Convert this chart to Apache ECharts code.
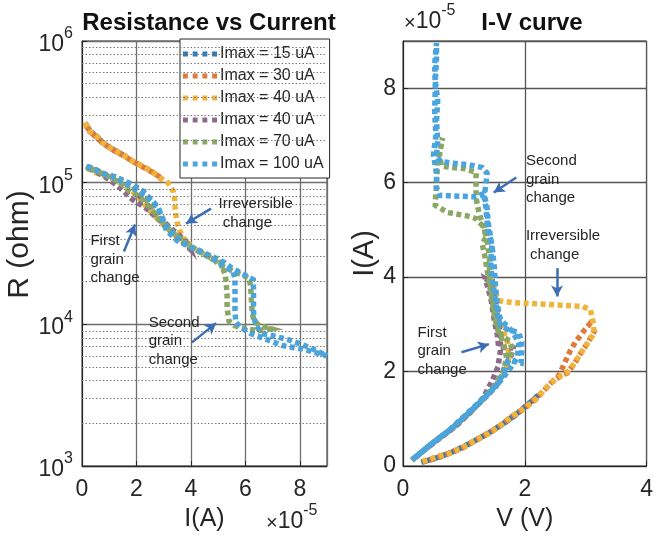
<!DOCTYPE html>
<html>
<head>
<meta charset="utf-8">
<title>Resistance vs Current / I-V curve</title>
<script src="https://cdn.jsdelivr.net/npm/echarts@6/dist/echarts.min.js"></script>
<style>
  html, body { margin: 0; padding: 0; background: #ffffff; }
  #chart { width: 656px; height: 541px; }
</style>
</head>
<body>
<div id="chart"></div>
<script>
// ---- Sweep names (one per current compliance) ----
const sweepNames = ['Imax = 15 uA', 'Imax = 30 uA', 'Imax = 40 uA', 'Imax = 40 uA ', 'Imax = 70 uA', 'Imax = 100 uA'];
const sweepColors = ['#2a79b8', '#de7a3c', '#f0b43c', '#8c6a8c', '#8aa763', '#4aa4dd'];

// ---- Resistance vs current: [I (x1e-5 A), R (ohm)] ----
const rc15 = [[0.11,2.65e5],[0.29,2.29e5],[0.55,2.11e5],[0.77,1.91e5],[1.14,1.71e5],[1.51,1.57e5],[1.30,1.64e5],[0.90,1.83e5],[0.50,2.12e5],[0.20,2.45e5],[0.11,2.62e5]];
const rc30 = [[0.11,2.65e5],[0.29,2.29e5],[0.55,2.11e5],[0.77,1.91e5],[1.14,1.71e5],[1.51,1.57e5],[1.88,1.41e5],[2.24,1.30e5],[2.57,1.20e5],[2.87,1.08e5],[2.97,1.04e5],[2.85,1.10e5],[2.60,1.18e5],[2.30,1.27e5],[1.90,1.40e5],[1.50,1.56e5],[1.10,1.72e5],[0.70,1.95e5],[0.35,2.25e5],[0.11,2.60e5]];
const rc40a = [[0.11,2.65e5],[0.29,2.29e5],[0.55,2.11e5],[0.77,1.91e5],[1.14,1.71e5],[1.51,1.57e5],[1.88,1.41e5],[2.24,1.30e5],[2.57,1.20e5],[2.87,1.08e5],[3.16,1.00e5],[3.35,8.7e4],[3.40,7.8e4],[3.42,6.8e4],[3.45,5.9e4],[3.50,5.2e4],[3.60,4.5e4],[3.80,3.9e4],[3.98,3.65e4],[3.70,4.0e4],[3.40,4.3e4],[3.10,4.8e4],[2.85,5.4e4],[2.60,6.0e4],[2.30,7.0e4],[2.00,8.2e4],[1.60,9.5e4],[1.20,1.05e5],[0.80,1.12e5],[0.40,1.20e5],[0.12,1.28e5]];
const rc40b = [[0.18,1.30e5],[0.48,1.24e5],[0.85,1.14e5],[1.21,1.10e5],[1.58,1.02e5],[1.88,9.5e4],[2.13,8.0e4],[2.35,7.6e4],[2.50,7.2e4],[2.52,6.2e4],[2.77,5.6e4],[3.08,4.9e4],[3.50,4.1e4],[3.75,3.75e4],[3.97,3.40e4],[3.90,3.70e4],[3.60,4.20e4],[3.30,4.70e4],[3.00,5.30e4],[2.75,5.80e4],[2.45,6.40e4],[2.10,7.10e4],[1.82,7.70e4],[1.45,9.0e4],[1.15,1.0e5],[0.85,1.1e5],[0.50,1.2e5],[0.15,1.3e5]];
const rc70 = [[0.18,1.30e5],[0.48,1.24e5],[0.85,1.14e5],[1.21,1.10e5],[1.58,1.02e5],[1.88,9.6e4],[2.20,8.2e4],[2.45,7.3e4],[2.65,6.6e4],[2.75,5.9e4],[3.00,5.2e4],[3.30,4.5e4],[3.70,3.9e4],[4.00,3.55e4],[4.40,3.2e4],[4.80,2.9e4],[5.10,2.6e4],[5.50,2.4e4],[5.95,2.2e4],[6.15,2.1e4],[6.20,1.8e4],[6.22,1.5e4],[6.25,1.25e4],[6.30,1.08e4],[6.50,9.8e3],[6.70,9.6e3],[6.95,9.3e3],[6.50,9.0e3],[6.00,9.3e3],[5.60,9.8e3],[5.40,1.05e4],[5.33,1.3e4],[5.33,1.6e4],[5.30,1.95e4],[5.26,2.26e4],[5.07,2.75e4],[4.84,2.85e4],[4.50,3.1e4],[4.00,3.5e4],[3.60,4.0e4],[3.20,4.7e4],[2.90,5.3e4],[2.60,6.3e4],[2.30,7.4e4],[2.00,8.2e4],[1.70,8.8e4],[1.40,1.0e5],[1.00,1.1e5],[0.50,1.22e5],[0.15,1.30e5]];
const rc100 = [[0.18,1.30e5],[0.48,1.24e5],[0.85,1.14e5],[1.21,1.10e5],[1.58,1.02e5],[1.88,9.7e4],[2.10,9.0e4],[2.25,8.7e4],[2.40,8.1e4],[2.60,7.4e4],[2.80,6.7e4],[2.88,6.1e4],[3.00,5.4e4],[3.15,4.8e4],[3.42,4.2e4],[3.86,3.6e4],[4.34,3.3e4],[4.70,3.05e4],[4.96,2.9e4],[5.20,2.75e4],[5.50,2.5e4],[5.92,2.26e4],[6.29,2.07e4],[6.30,1.76e4],[6.30,1.43e4],[6.30,1.22e4],[6.35,1.05e4],[6.47,9.3e3],[6.73,8.5e3],[7.00,8.3e3],[7.57,7.8e3],[8.00,7.3e3],[8.40,6.8e3],[9.00,6.0e3],[8.60,6.3e3],[8.10,6.7e3],[7.70,6.9e3],[7.35,7.1e3],[6.80,7.8e3],[6.20,8.6e3],[5.85,9.5e3],[5.65,1.03e4],[5.62,1.25e4],[5.62,1.5e4],[5.62,1.8e4],[5.62,2.1e4],[5.55,2.37e4],[5.20,2.6e4],[4.84,2.9e4],[4.50,3.2e4],[4.00,3.5e4],[3.50,3.9e4],[3.10,4.6e4],[2.85,6.3e4],[2.60,7.3e4],[2.30,8.2e4],[2.05,8.7e4],[1.80,9.3e4],[1.40,1.03e5],[1.00,1.12e5],[0.60,1.20e5],[0.18,1.28e5]];

// ---- I-V sweeps: [V (V), I (x1e-5 A)] ----
const iv15 = [[0.30,0.08],[0.55,0.17],[0.76,0.27],[1.00,0.40],[1.20,0.55],[1.40,0.69],[1.57,0.83],[1.80,1.03],[2.00,1.23],[2.12,1.37],[2.22,1.50],[2.10,1.36],[1.90,1.14],[1.65,0.90],[1.40,0.69],[1.10,0.48],[0.80,0.29],[0.50,0.15],[0.30,0.08]];
const iv30 = [[0.32,0.08],[0.55,0.19],[0.76,0.27],[0.97,0.38],[1.20,0.55],[1.41,0.69],[1.57,0.83],[1.78,1.04],[2.00,1.23],[2.17,1.40],[2.27,1.54],[2.43,1.76],[2.56,1.92],[2.66,2.20],[2.75,2.45],[2.83,2.62],[2.95,2.83],[3.06,3.00],[3.14,2.85],[3.03,2.60],[2.92,2.39],[2.82,2.18],[2.70,1.97],[2.60,1.92],[2.43,1.76],[2.27,1.54],[2.00,1.23],[1.78,1.04],[1.57,0.83],[1.30,0.62],[1.00,0.40],[0.70,0.24],[0.45,0.13],[0.32,0.08]];
const iv40a = [[0.32,0.10],[0.55,0.19],[0.76,0.27],[0.97,0.38],[1.20,0.55],[1.41,0.69],[1.57,0.83],[1.78,1.04],[2.00,1.23],[2.17,1.40],[2.27,1.54],[2.43,1.76],[2.60,1.92],[2.70,1.99],[2.82,2.18],[2.92,2.39],[3.03,2.60],[3.14,2.81],[3.12,3.05],[3.08,3.30],[2.95,3.38],[2.70,3.40],[2.40,3.42],[2.10,3.44],[1.80,3.46],[1.57,3.50],[1.52,3.65],[1.48,3.85],[1.46,4.00],[1.52,3.60],[1.56,3.25],[1.62,2.95],[1.72,2.60],[1.74,2.30],[1.68,2.00],[1.55,1.75],[1.35,1.45],[1.10,1.15],[0.85,0.85],[0.55,0.55],[0.30,0.28],[0.15,0.12]];
const iv40b = [[0.15,0.13],[0.49,0.49],[0.81,0.80],[1.08,1.12],[1.30,1.39],[1.52,1.68],[1.60,1.85],[1.68,2.13],[1.78,2.35],[1.81,2.50],[1.57,2.52],[1.55,2.77],[1.50,3.08],[1.45,3.50],[1.40,3.75],[1.35,3.97],[1.45,3.90],[1.50,3.60],[1.55,3.30],[1.58,3.00],[1.60,2.75],[1.60,2.45],[1.56,2.10],[1.47,1.82],[1.32,1.45],[1.12,1.15],[0.88,0.86],[0.62,0.60],[0.36,0.35],[0.15,0.12]];
const iv70 = [[0.15,0.13],[0.49,0.49],[0.81,0.80],[1.08,1.12],[1.30,1.39],[1.52,1.68],[1.65,1.96],[1.72,2.20],[1.80,2.45],[1.75,2.65],[1.62,2.75],[1.55,3.00],[1.50,3.30],[1.45,3.70],[1.42,4.00],[1.42,4.40],[1.38,4.80],[1.33,5.05],[1.25,5.35],[1.20,5.67],[1.20,5.94],[1.20,6.22],[1.00,6.30],[0.80,6.32],[0.63,6.35],[0.60,6.60],[0.65,6.95],[0.57,6.50],[0.55,6.00],[0.53,5.52],[0.73,5.37],[1.04,5.30],[1.20,5.24],[1.33,5.05],[1.36,4.84],[1.30,4.71],[1.35,4.40],[1.40,4.00],[1.45,3.60],[1.50,3.20],[1.55,2.90],[1.65,2.60],[1.70,2.30],[1.65,2.00],[1.50,1.70],[1.30,1.40],[1.08,1.12],[0.81,0.80],[0.49,0.49],[0.15,0.13]];
const iv100 = [[0.15,0.13],[0.49,0.49],[0.81,0.80],[1.08,1.12],[1.30,1.39],[1.52,1.68],[1.65,1.96],[1.73,2.24],[1.94,2.18],[1.95,2.41],[1.95,2.62],[1.90,2.83],[1.73,2.88],[1.60,2.98],[1.54,3.26],[1.52,3.51],[1.49,3.72],[1.46,4.00],[1.44,4.30],[1.46,4.70],[1.40,4.98],[1.38,5.20],[1.36,5.48],[1.33,5.70],[1.36,5.94],[1.38,6.20],[1.30,6.32],[1.08,6.38],[0.92,6.40],[0.76,6.42],[0.62,6.45],[0.55,6.55],[0.57,6.90],[0.55,7.30],[0.57,7.75],[0.53,8.15],[0.55,8.60],[0.55,8.96],[0.52,8.50],[0.53,8.00],[0.52,7.50],[0.54,7.00],[0.50,6.60],[0.55,6.20],[0.55,5.90],[0.60,5.73],[0.80,5.72],[1.00,5.71],[1.20,5.70],[1.33,5.77],[1.38,5.48],[1.40,5.14],[1.44,4.84],[1.47,4.57],[1.50,4.20],[1.52,3.80],[1.55,3.40],[1.60,3.10],[1.80,2.85],[1.90,2.60],[1.88,2.30],[1.75,2.05],[1.60,1.80],[1.45,1.60],[1.25,1.35],[1.00,1.05],[0.75,0.75],[0.45,0.45],[0.15,0.13]];

// ---- Axis ticks ----
const currentTicks = [0, 2, 4, 6, 8];
const voltageTicks = [0, 2, 4];
const resistanceDecades = [1e3, 1e4, 1e5, 1e6];

// ---- Annotations (data coordinates) ----
const rcNotes = [
  { text: 'Irreversible\n change', at: [5.0, 6.05e4] },
  { text: 'First\ngrain\nchange', at: [0.29, 2.87e4] },
  { text: 'Second\ngrain\nchange', at: [2.43, 7.6e3] }
];
const rcArrows = [
  [[4.74, 6.56e4], [3.82, 5.14e4]],
  [[1.54, 3.27e4], [1.95, 5.06e4]],
  [[4.04, 7.46e3], [4.93, 1.02e4]]
];
const ivNotes = [
  { text: 'Second\ngrain\nchange', at: [2.01, 6.07] },
  { text: 'Irreversible\n change', at: [2.01, 4.67] },
  { text: 'First\ngrain\nchange', at: [0.23, 2.43] }
];
const ivArrows = [
  [[1.86, 6.11], [1.49, 5.79]],
  [[2.53, 4.19], [2.53, 3.59]],
  [[0.96, 2.41], [1.41, 2.58]]
];

const FONT = '"Liberation Sans", Arial, Helvetica, sans-serif';
const INK = '#262626';
const ARROW = '#3d6db3';
// legend swatch: a row of four square dots
const DOT_ICON = 'path://M0,0h5v5h-5z M10,0h5v5h-5z M20,0h5v5h-5z M30,0h5v5h-5z';

const rcSets = [rc15, rc30, rc40a, rc40b, rc70, rc100];
const ivSets = [iv15, iv30, iv40a, iv40b, iv70, iv100];

// minor (dotted) grid values on the log axis: 2..9 x 10^k
const minorR = [];
[1e3, 1e4, 1e5].forEach(function (d) {
  for (let m = 2; m <= 9; m++) minorR.push(m * d);
});

function sweep(i, data, axis) {
  return {
    type: 'line',
    name: sweepNames[i],
    data: data,
    xAxisIndex: axis,
    yAxisIndex: axis,
    showSymbol: false,
    symbol: 'none',
    silent: true,
    z: 3,
    itemStyle: { color: sweepColors[i] },
    lineStyle: { color: sweepColors[i], width: 5.5, type: [5, 3.5], cap: 'butt', join: 'miter' }
  };
}

function notes(axis, texts, arrows) {
  return {
    type: 'line',
    data: [],
    xAxisIndex: axis,
    yAxisIndex: axis,
    silent: true,
    z: 5,
    markLine: {
      silent: true,
      symbol: ['none', 'arrow'],
      symbolSize: [9, 11],
      label: { show: false },
      lineStyle: { color: ARROW, width: 2.5, type: 'solid' },
      data: arrows.map(function (a) { return [{ coord: a[0] }, { coord: a[1] }]; })
    },
    markPoint: {
      silent: true,
      symbol: 'rect',
      symbolSize: 1,
      itemStyle: { color: 'rgba(0,0,0,0)' },
      label: {
        show: true, position: 'right', distance: 0, formatter: '{b}',
        color: INK, fontFamily: FONT, fontSize: 15, lineHeight: 18.5
      },
      data: texts.map(function (t) { return { name: t.text, coord: t.at }; })
    }
  };
}

const series = [];
// dotted minor grid on the log resistance axis
series.push({
  type: 'line', data: [], xAxisIndex: 0, yAxisIndex: 0, silent: true, z: 1,
  markLine: {
    silent: true, symbol: 'none', label: { show: false },
    lineStyle: { color: '#7a7a7a', width: 1, type: [1.5, 2] },
    data: minorR.map(function (v) { return { yAxis: v }; })
  }
});
rcSets.forEach(function (d, i) { series.push(sweep(i, d, 0)); });
ivSets.forEach(function (d, i) { series.push(sweep(i, d, 1)); });
series.push(notes(0, rcNotes, rcArrows));
series.push(notes(1, ivNotes, ivArrows));

const tickText = { color: INK, fontFamily: FONT, fontSize: 23 };

const option = {
  animation: false,
  backgroundColor: '#ffffff',
  title: [
    { text: 'Resistance vs Current', left: 204, top: 6, textAlign: 'center',
      textStyle: { fontFamily: FONT, fontSize: 24, fontWeight: 'bold', color: '#111' } },
    { text: 'I-V curve', left: 527, top: 6, textAlign: 'center',
      textStyle: { fontFamily: FONT, fontSize: 24, fontWeight: 'bold', color: '#111' } }
  ],
  legend: {
    data: sweepNames.map(function (n) { return { name: n, icon: DOT_ICON }; }),
    orient: 'vertical',
    left: 180, top: 39,
    padding: [7, 6, 6, 3],
    itemGap: 6,
    itemWidth: 34,
    itemHeight: 5,
    backgroundColor: '#ffffff',
    borderColor: INK,
    borderWidth: 1,
    borderRadius: 0,
    selectedMode: false,
    textStyle: { fontFamily: FONT, fontSize: 16, color: INK, padding: [0, 0, 0, -2] }
  },
  grid: [
    { left: 82, top: 41, width: 245, height: 425, show: true, borderColor: INK, borderWidth: 1, backgroundColor: '#fff' },
    { left: 403, top: 41, width: 247, height: 425, show: true, borderColor: INK, borderWidth: 1, backgroundColor: '#fff' }
  ],
  xAxis: [
    {
      gridIndex: 0, type: 'value', min: 0, max: 9, interval: 2,
      name: 'I(A)', nameLocation: 'middle', nameGap: 41,
      nameTextStyle: { fontFamily: FONT, fontSize: 25, color: INK },
      axisLine: { show: true, lineStyle: { color: INK } },
      axisTick: { show: true, inside: true, length: 5, lineStyle: { color: INK } },
      axisLabel: Object.assign({ margin: 12, showMaxLabel: false,
        formatter: function (v) { return currentTicks.indexOf(v) >= 0 ? String(v) : ''; } }, tickText),
      splitLine: { show: true, lineStyle: { color: '#6e6e6e', width: 1.3 } }
    },
    {
      gridIndex: 1, type: 'value', min: 0, max: 4, interval: 2,
      name: 'V (V)', nameLocation: 'middle', nameGap: 41,
      nameTextStyle: { fontFamily: FONT, fontSize: 25, color: INK },
      axisLine: { show: true, lineStyle: { color: INK } },
      axisTick: { show: true, inside: true, length: 5, lineStyle: { color: INK } },
      axisLabel: Object.assign({ margin: 12,
        formatter: function (v) { return voltageTicks.indexOf(v) >= 0 ? String(v) : ''; } }, tickText),
      splitLine: { show: true, lineStyle: { color: '#555', width: 1.3 } }
    }
  ],
  yAxis: [
    {
      gridIndex: 0, type: 'log', logBase: 10, min: 1e3, max: 1e6,
      name: 'R (ohm)', nameLocation: 'middle', nameGap: 44, nameRotate: 90,
      nameTextStyle: { fontFamily: FONT, fontSize: 30, color: INK, padding: [0, 0, 0, 18] },
      axisLine: { show: true, lineStyle: { color: INK } },
      axisTick: { show: true, inside: true, length: 5, lineStyle: { color: INK } },
      axisLabel: {
        margin: 9,
        formatter: function (v) {
          if (resistanceDecades.indexOf(v) < 0) return '';
          return '{b|10}{s|' + Math.round(Math.log10(v)) + '}';
        },
        rich: {
          b: { fontFamily: FONT, fontSize: 23, color: INK, lineHeight: 30, verticalAlign: 'bottom' },
          s: { fontFamily: FONT, fontSize: 16, color: INK, lineHeight: 16, verticalAlign: 'top' }
        }
      },
      splitLine: { show: true, lineStyle: { color: '#6e6e6e', width: 1.3 } }
    },
    {
      gridIndex: 1, type: 'value', min: 0, max: 9, interval: 2,
      name: 'I(A)', nameLocation: 'middle', nameGap: 22, nameRotate: 90,
      nameTextStyle: { fontFamily: FONT, fontSize: 29, color: INK },
      axisLine: { show: true, lineStyle: { color: INK } },
      axisTick: { show: true, inside: true, length: 5, lineStyle: { color: INK } },
      axisLabel: Object.assign({ margin: 7, showMaxLabel: false,
        formatter: function (v) { return currentTicks.indexOf(v) >= 0 ? String(v) : ''; } }, tickText),
      splitLine: { show: true, lineStyle: { color: '#555', width: 1.3 } }
    }
  ],
  graphic: [
    {
      type: 'text', left: 266, top: 503, silent: true,
      style: {
        text: '{x|\u00d7}{b|10}{s|-5}',
        rich: {
          x: { fontFamily: FONT, fontSize: 20, fill: INK, lineHeight: 30, verticalAlign: 'bottom' },
          b: { fontFamily: FONT, fontSize: 23, fill: INK, lineHeight: 30, verticalAlign: 'bottom' },
          s: { fontFamily: FONT, fontSize: 16, fill: INK, lineHeight: 16, verticalAlign: 'top' }
        }
      }
    },
    {
      type: 'text', left: 404, top: 3, silent: true,
      style: {
        text: '{x|\u00d7}{b|10}{s|-5}',
        rich: {
          x: { fontFamily: FONT, fontSize: 20, fill: INK, lineHeight: 30, verticalAlign: 'bottom' },
          b: { fontFamily: FONT, fontSize: 23, fill: INK, lineHeight: 30, verticalAlign: 'bottom' },
          s: { fontFamily: FONT, fontSize: 16, fill: INK, lineHeight: 16, verticalAlign: 'top' }
        }
      }
    }
  ],
  series: series
};

const chart = echarts.init(document.getElementById('chart'), null, { renderer: 'canvas' });
chart.setOption(option);
</script>
</body>
</html>
